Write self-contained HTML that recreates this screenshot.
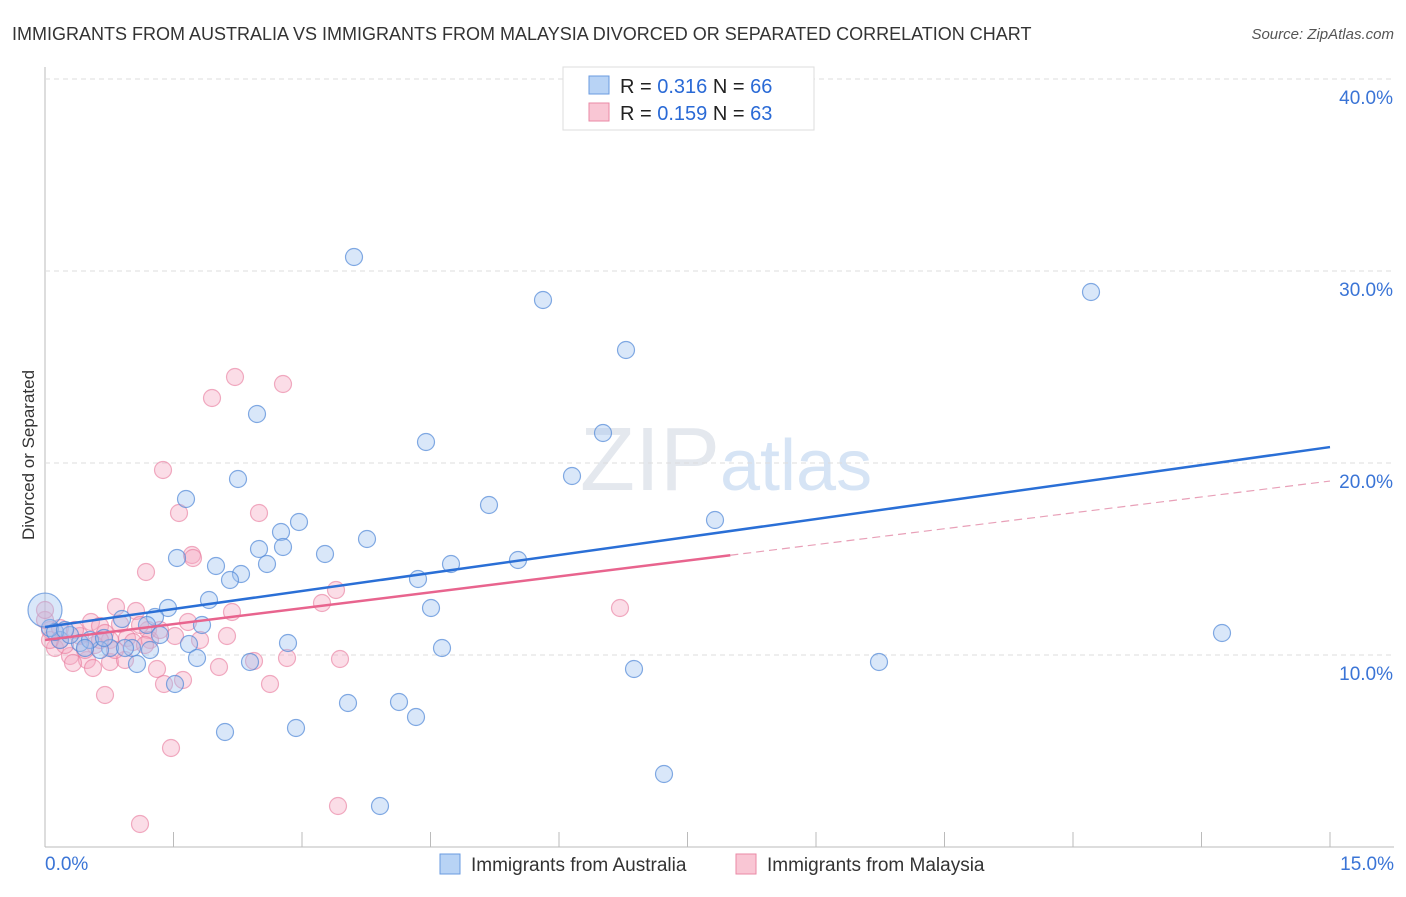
<!DOCTYPE html>
<html><head><meta charset="utf-8"><style>
body{margin:0;background:#fff;font-family:"Liberation Sans",sans-serif}
svg text{font-family:"Liberation Sans",sans-serif}
</style></head><body>
<svg id="c" width="1406" height="892">
<text x="12" y="40" font-size="18" fill="#333">IMMIGRANTS FROM AUSTRALIA VS IMMIGRANTS FROM MALAYSIA DIVORCED OR SEPARATED CORRELATION CHART</text>
<text x="1394" y="39" font-size="15" fill="#555" font-style="italic" text-anchor="end">Source: ZipAtlas.com</text>
<text x="720" y="490" font-size="90" fill="#e4e8ee" text-anchor="end" font-family="Liberation Serif">ZIP</text>
<text x="720" y="490" font-size="72" fill="#d6e4f5">atlas</text>
<text transform="translate(34,455) rotate(-90)" font-size="17" fill="#333" text-anchor="middle">Divorced or Separated</text>
<g id="grid"></g><g id="pts"></g><g id="lines"></g>
<g>
<rect x="563" y="67" width="251" height="63" fill="#fff" stroke="#ddd"/>
<rect x="589" y="76" width="20" height="18" fill="#b8d3f5" stroke="#6a9be0"/>
<rect x="589" y="103" width="20" height="18" fill="#f9c6d4" stroke="#ea89a6"/>
<text x="620" y="93" font-size="20" fill="#222">R = <tspan fill="#2a6ad6">0.316</tspan>   N = <tspan fill="#2a6ad6">66</tspan></text>
<text x="620" y="120" font-size="20" fill="#222">R = <tspan fill="#2a6ad6">0.159</tspan>   N = <tspan fill="#2a6ad6">63</tspan></text>
</g>
<g>
<rect x="440" y="854" width="20" height="20" fill="#b8d3f5" stroke="#6a9be0"/>
<text x="471" y="871" font-size="19" fill="#333">Immigrants from Australia</text>
<rect x="736" y="854" width="20" height="20" fill="#f9c6d4" stroke="#ea89a6"/>
<text x="767" y="871" font-size="19" fill="#333">Immigrants from Malaysia</text>
</g>
</svg>
<script>
const yTicks=[10,20,30,40];
const xTickLabels=["0.0%","15.0%"];
const blueX=[354,543,1091,626,257,426,603,572,238,186,489,715,299,281,367,259,283,325,177,216,518,451,267,241,230,418,209,168,431,155,202,122,147,1222,189,288,442,110,132,80,100,160,60,70,50,137,197,250,634,879,175,348,399,416,225,296,664,380,90,55,125,104,65,85,150].map(p=>(p-45)/1285*15);
const blueY=[257,300,292,350,414,442,433,476,479,499,505,520,522,532,539,549,547,554,558,566,560,564,564,574,580,579,600,608,608,617,625,619,625,633,644,643,648,648,648,643,650,635,640,635,628,664,658,662,669,662,684,703,702,717,732,728,774,806,640,632,648,638,630,648,650].map(p=>(847-p)/19.2);
const pinkX=[235,283,212,163,179,259,192,193,146,336,322,620,116,136,232,91,100,120,188,148,175,227,127,105,80,60,50,45,55,70,95,133,110,87,73,157,219,254,287,340,93,110,164,183,270,105,171,338,140,65,85,50,60,100,125,150,200,45,75,115,140,160,145].map(p=>(p-45)/1285*15);
const pinkY=[377,384,398,470,513,513,555,558,572,590,603,608,607,611,612,622,626,624,622,630,636,636,638,633,636,640,630,620,648,656,645,642,640,660,663,669,667,661,658,659,668,662,684,680,684,695,748,806,824,645,650,640,628,640,660,640,640,610,630,650,625,630,645].map(p=>(847-p)/19.2);
const blueTrend=[11.46,20.83];
const pinkTrend=[10.78,19.06];
const pinkSolidEnd=8.0;
const X=v=>45+v/15*1285, Y=v=>847-v*19.2;
const NS="http://www.w3.org/2000/svg";
function mk(t,a,p){const e=document.createElementNS(NS,t);for(const k in a)e.setAttribute(k,a[k]);document.getElementById(p).appendChild(e);return e;}
const svg=document.getElementById('c');
// axes
let ax=mk('line',{x1:45,y1:67,x2:45,y2:847,stroke:'#bbb'},'grid');


let bx=mk('line',{x1:45,y1:847,x2:1394,y2:847,stroke:'#bbb'},'grid');


for(let i=0;i<=10;i++){const t=mk('line',{x1:X(i*1.5),y1:832,x2:X(i*1.5),y2:847,stroke:'#bbb'},'grid');

}
yTicks.forEach(v=>{const g=mk('line',{x1:45,y1:Y(v),x2:1394,y2:Y(v),stroke:'#ddd','stroke-dasharray':'5,4'},'grid');


const t=mk('text',{x:1393,y:Y(v)+25,'font-size':19,fill:'#3a74d6','text-anchor':'end'},'grid');t.textContent=v.toFixed(1)+'%';

});
const xl0=mk('text',{x:45,y:870,'font-size':19,fill:'#3a74d6'},'grid');xl0.textContent=xTickLabels[0];


const xl1=mk('text',{x:1394,y:870,'font-size':19,fill:'#3a74d6','text-anchor':'end'},'grid');xl1.textContent=xTickLabels[1];


// points
pinkX.forEach((x,i)=>{const c=mk('circle',{cx:X(x),cy:Y(pinkY[i]),r:8.5,fill:'rgba(246,170,195,0.4)',stroke:'rgba(232,120,155,0.6)','stroke-width':1.2},'pts');

});
blueX.forEach((x,i)=>{const c=mk('circle',{cx:X(x),cy:Y(blueY[i]),r:8.5,fill:'rgba(160,195,240,0.4)',stroke:'rgba(80,135,215,0.7)','stroke-width':1.2},'pts');

});
const big=mk('circle',{cx:X(0),cy:Y(12.34),r:17,fill:'rgba(160,195,240,0.4)',stroke:'rgba(80,135,215,0.7)','stroke-width':1.2},'pts');


// trends
const pt=(tr,x)=>tr[0]+(tr[1]-tr[0])*x/15;
const bl=mk('line',{x1:X(0),y1:Y(pt(blueTrend,0)),x2:X(15),y2:Y(pt(blueTrend,15)),stroke:'#2a6fd6','stroke-width':2.5},'lines');


const pl=mk('line',{x1:X(0),y1:Y(pt(pinkTrend,0)),x2:X(pinkSolidEnd),y2:Y(pt(pinkTrend,pinkSolidEnd)),stroke:'#e8648e','stroke-width':2.5},'lines');


const pd=mk('line',{x1:X(pinkSolidEnd),y1:Y(pt(pinkTrend,pinkSolidEnd)),x2:X(15),y2:Y(pt(pinkTrend,15)),stroke:'#e8a0b8','stroke-width':1.2,'stroke-dasharray':'8,5'},'lines');


</script>
</body></html>
